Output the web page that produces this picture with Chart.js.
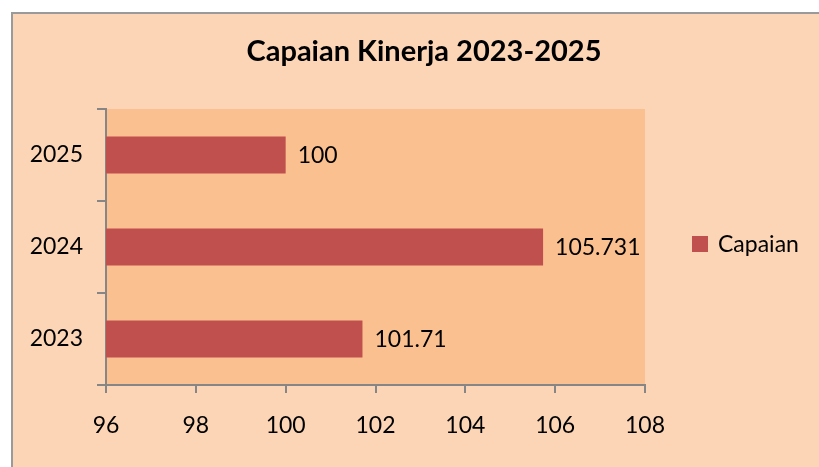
<!DOCTYPE html>
<html>
<head>
<meta charset="utf-8">
<script src="https://cdn.jsdelivr.net/npm/chart.js@4/dist/chart.umd.min.js"></script>
<style>
  html, body { margin: 0; padding: 0; background: #ffffff; }
  #wrap { width: 819px; height: 467px; position: relative; }
</style>
</head>
<body>
<div id="wrap"><canvas id="kinerjaChart" width="819" height="467"></canvas></div>
<script>
// data for the chart
const years = ['2025', '2024', '2023'];
const capaian = [100, 105.731, 101.71];
const valueLabels = ['100', '105.731', '101.71'];
const xTicks = [96, 98, 100, 102, 104, 106, 108];
const chartTitle = 'Capaian Kinerja 2023-2025';
const seriesName = 'Capaian';

const FONT = 'Lato, "Liberation Sans", sans-serif';

// background, border, title, legend and value labels
const decorPlugin = {
    id: 'decor',
    beforeDraw(chart) {
        const ctx = chart.ctx;
        const a = chart.chartArea;
        ctx.save();
        ctx.fillStyle = '#ffffff';
        ctx.fillRect(0, 0, chart.width, chart.height);
        ctx.fillStyle = '#FBD5B5';
        ctx.fillRect(12, 13, chart.width, chart.height);
        ctx.strokeStyle = '#9a9a9a';
        ctx.lineWidth = 2;
        ctx.beginPath();
        ctx.moveTo(12, chart.height + 5);
        ctx.lineTo(12, 13);
        ctx.lineTo(chart.width + 5, 13);
        ctx.stroke();
        // plot area
        ctx.fillStyle = '#FAC090';
        ctx.fillRect(a.left, a.top, a.right - a.left, a.bottom - a.top);
        ctx.restore();
    },
    afterDraw(chart) {
        const ctx = chart.ctx;
        ctx.save();
        // title
        ctx.fillStyle = '#000000';
        ctx.font = 'bold 29px ' + FONT;
        ctx.textAlign = 'center';
        ctx.textBaseline = 'middle';
        ctx.fillText(chartTitle, 424, 52);
        // value labels
        ctx.font = '23px ' + FONT;
        ctx.textAlign = 'left';
        const meta = chart.getDatasetMeta(0);
        meta.data.forEach((bar, i) => {
            ctx.fillText(valueLabels[i], bar.x + 12, bar.y + 1);
        });
        // legend
        ctx.fillStyle = '#C0504D';
        ctx.fillRect(692, 236, 16, 16);
        ctx.fillStyle = '#000000';
        ctx.fillText(seriesName, 718, 245);
        ctx.restore();
    }
};

const ctx = document.getElementById('kinerjaChart').getContext('2d');
const myChart = new Chart(ctx, {
    type: 'bar',
    data: {
        labels: years,
        datasets: [{
            label: seriesName,
            data: capaian,
            backgroundColor: '#C0504D',
            borderWidth: 0,
            categoryPercentage: 1,
            barPercentage: 0.4
        }]
    },
    options: {
        indexAxis: 'y',
        responsive: false,
        animation: false,
        layout: {
            padding: { left: 0, top: 109, right: 174, bottom: 0 }
        },
        scales: {
            x: {
                min: 96,
                max: 108,
                afterBuildTicks: (scale) => {
                    scale.ticks = xTicks.map(v => ({ value: v }));
                },
                afterFit: (scale) => { scale.height = 82; },
                grid: {
                    drawOnChartArea: false,
                    drawTicks: true,
                    tickLength: 8,
                    color: '#868686',
                    lineWidth: 2
                },
                border: { display: true, color: '#868686', width: 2 },
                ticks: {
                    color: '#000000',
                    font: { family: FONT, size: 23 },
                    padding: 19
                }
            },
            y: {
                afterFit: (scale) => { scale.width = 106; },
                grid: {
                    offset: true,
                    drawOnChartArea: false,
                    drawTicks: true,
                    tickLength: 9,
                    color: '#868686',
                    lineWidth: 2
                },
                border: { display: true, color: '#868686', width: 2 },
                ticks: {
                    color: '#000000',
                    font: { family: FONT, size: 23 },
                    padding: 14
                }
            }
        },
        plugins: {
            legend: { display: false },
            title: { display: false },
            tooltip: { enabled: false }
        }
    },
    plugins: [decorPlugin]
});
</script>
</body>
</html>
